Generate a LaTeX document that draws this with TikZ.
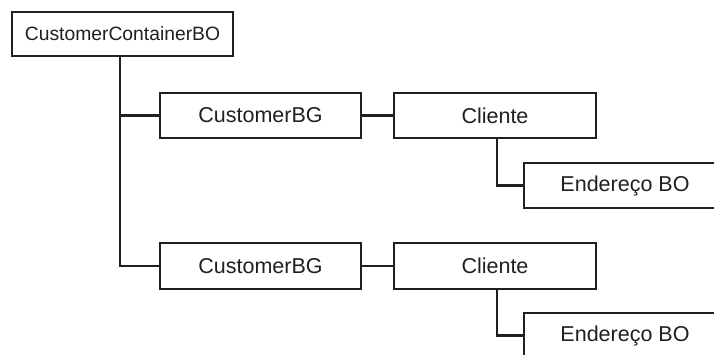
\documentclass[tikz,border=0pt]{standalone}
\usepackage{fontspec}
\setmainfont{Liberation Sans}
\usepackage{tikz}
\usetikzlibrary{positioning}
\definecolor{ink}{HTML}{231F20}
\tikzset{
  bobox/.style={draw=ink,line width=2.2pt,fill=white,inner sep=0pt,
    minimum width=201pt,minimum height=45pt,text=ink,
    font=\fontsize{21.5}{24}\selectfont},
  topbox/.style={bobox,minimum width=221pt,minimum height=44pt,
    font=\fontsize{19.3}{22}\selectfont},
  link/.style={draw=ink,line width=2.2pt},
}
\begin{document}
\begin{tikzpicture}[x=1pt,y=-1pt]
  % page frame, the right and bottom boxes run past it
  \clip (0,0) rectangle (714,354);
  \fill[white] (0,0) rectangle (714,354);
  % container
  \node[topbox] (ccbo) at (122.5,34) {CustomerContainerBO};
  \coordinate (trunk) at (120,56);
  % first business group
  \node[bobox] (bg1) at (260.5,115.5) {CustomerBG};
  \node[bobox,minimum width=202pt] (cli1) at (495,115.5) {Cliente};
  \node[bobox,minimum width=202pt] (end1) at (625,185.5) {Endereço BO};
  % second business group
  \node[bobox,minimum height=46pt] (bg2) at (260.5,266) {CustomerBG};
  \node[bobox,minimum width=202pt,minimum height=46pt] (cli2) at (495,266) {Cliente};
  \node[bobox,minimum width=202pt] (end2) at (625,335.5) {Endereço BO};
  % tree lines
  \draw[link] (trunk) |- (bg2.west);
  \draw[link] (trunk |- bg1.west) -- (bg1.west);
  \draw[link] (bg1.east) -- (cli1.west);
  \draw[link] (bg2.east) -- (cli2.west);
  \draw[link] ([xshift=2pt]cli1.south) |- (end1.west);
  \draw[link] ([xshift=2pt]cli2.south) |- (end2.west);
\end{tikzpicture}
\end{document}
